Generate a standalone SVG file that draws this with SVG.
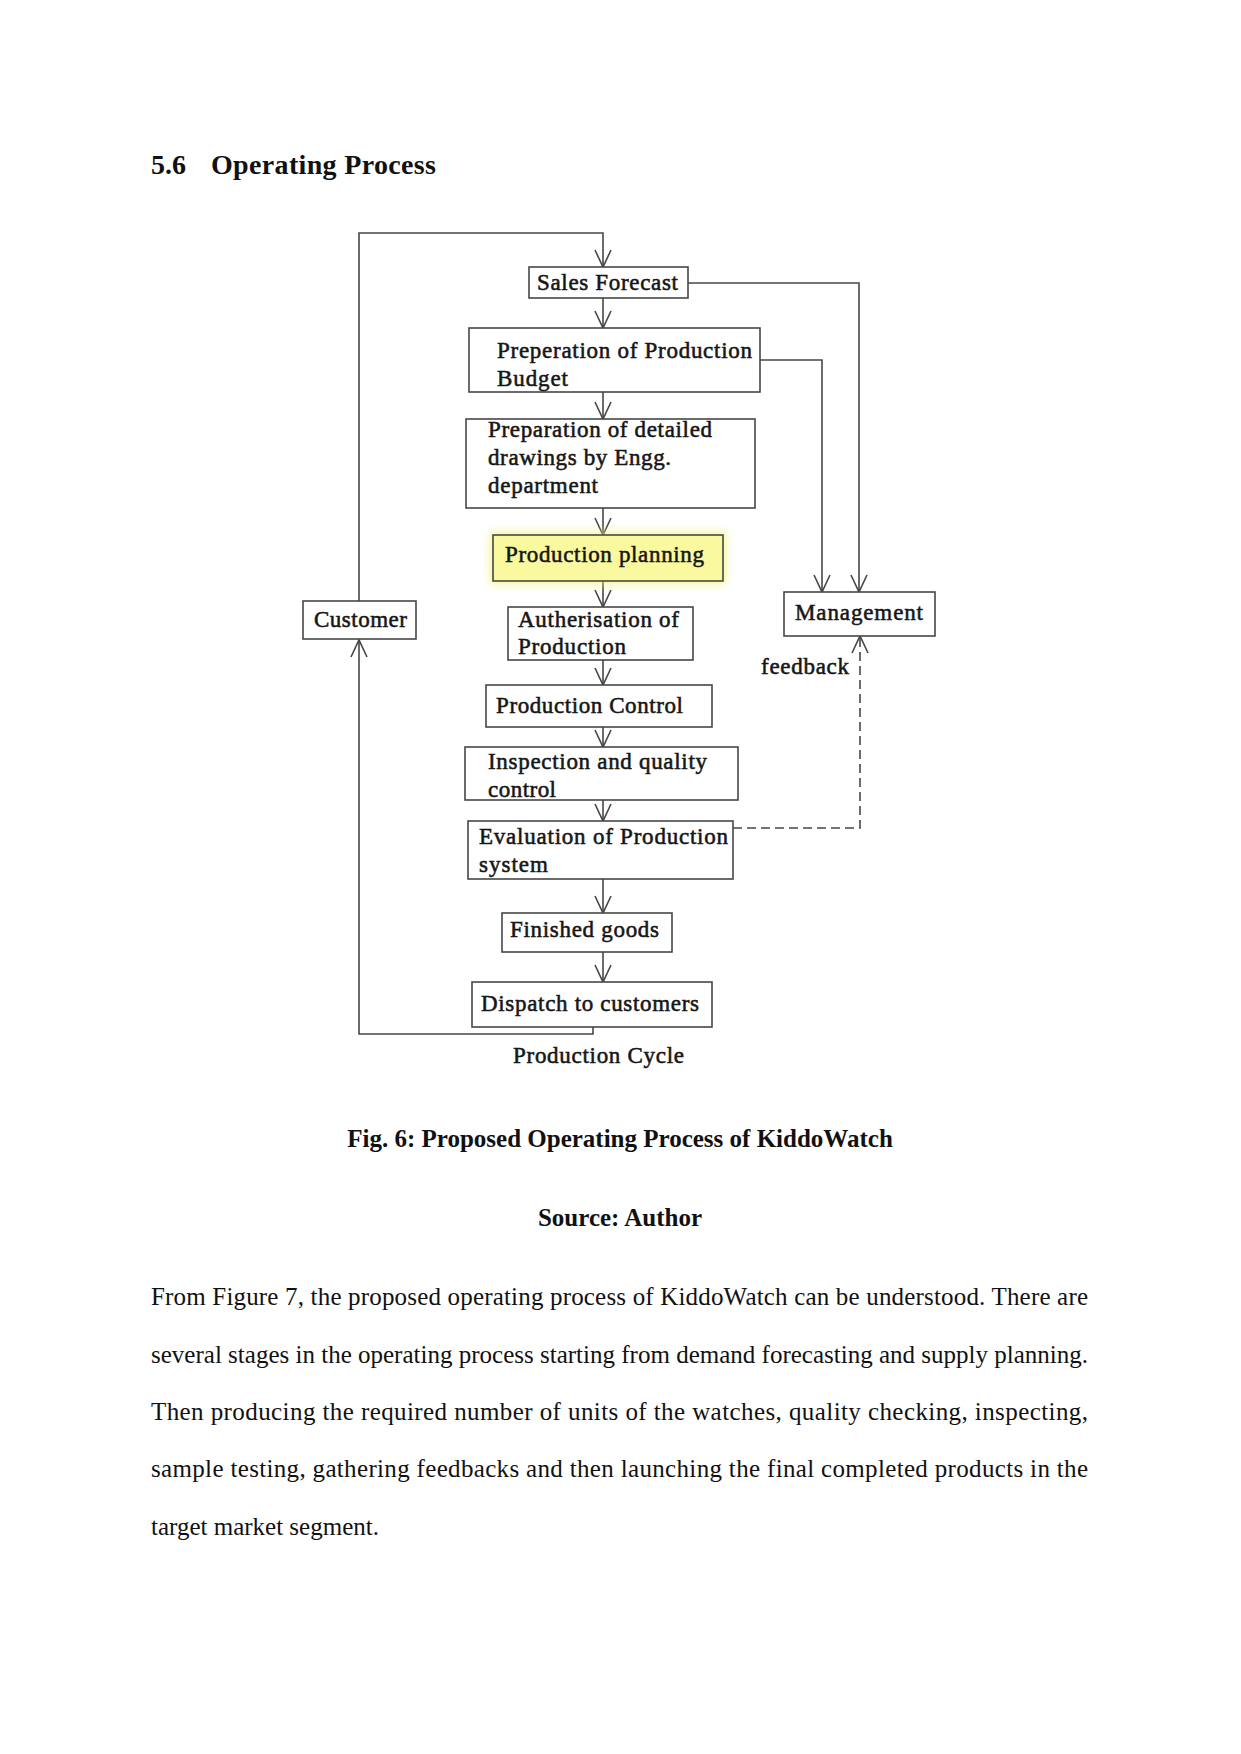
<svg xmlns="http://www.w3.org/2000/svg" width="1241" height="1754" viewBox="0 0 1241 1754">
  <style>
    .box { fill: #ffffff; stroke: #474747; stroke-width: 1.6; }
    .t { font-family: "Liberation Serif", "Times New Roman", serif; font-size: 23px; fill: #161616; stroke: #161616; stroke-width: 0.55; }
    .ln { fill: none; stroke: #474747; stroke-width: 1.6; }
    .dash { fill: none; stroke: #474747; stroke-width: 1.6; stroke-dasharray: 9 5; }
    .head { font-family: "Liberation Serif", "Times New Roman", serif; font-weight: bold; font-size: 28px; fill: #111; }
    .cap { font-family: "Liberation Serif", "Times New Roman", serif; font-weight: bold; font-size: 25px; fill: #111; }
    .body { font-family: "Liberation Serif", "Times New Roman", serif; font-size: 25px; fill: #111; }
  </style>
  <defs>
    <marker id="arr" viewBox="-20 -10 22 20" refX="0" refY="0" markerWidth="22" markerHeight="20" markerUnits="userSpaceOnUse" orient="auto">
      <path d="M-17,-8 L0,0 L-17,8" fill="none" stroke="#474747" stroke-width="1.6"/>
    </marker>
    <filter id="glow" x="-20%" y="-50%" width="140%" height="200%">
      <feGaussianBlur stdDeviation="4"/>
    </filter>
  </defs>

  <rect width="1241" height="1754" fill="#ffffff"/>

  <text class="head" x="151" y="174">5.6</text>
  <text class="head" x="211" y="174" textLength="225" lengthAdjust="spacing">Operating Process</text>

  <g id="connectors">
    <path class="ln" d="M359,601 V233 H603 V267" marker-end="url(#arr)"/>
    <path class="ln" d="M593,1027 V1034 H359 V640" marker-end="url(#arr)"/>
    <path class="ln" d="M603,298 V328" marker-end="url(#arr)"/>
    <path class="ln" d="M603,392 V419" marker-end="url(#arr)"/>
    <path class="ln" d="M603,508 V535" marker-end="url(#arr)"/>
    <path class="ln" d="M603,581 V607" marker-end="url(#arr)"/>
    <path class="ln" d="M603,660 V685" marker-end="url(#arr)"/>
    <path class="ln" d="M603,727 V747" marker-end="url(#arr)"/>
    <path class="ln" d="M603,800 V821" marker-end="url(#arr)"/>
    <path class="ln" d="M603,879 V913" marker-end="url(#arr)"/>
    <path class="ln" d="M603,952 V982" marker-end="url(#arr)"/>
    <path class="ln" d="M688,283 H859 V592" marker-end="url(#arr)"/>
    <path class="ln" d="M760,360 H822 V592" marker-end="url(#arr)"/>
    <path class="dash" d="M733,828 H860 V637"/>
    <path class="ln" d="M852,653 L860,636 L868,653"/>
    <text class="t" x="761" y="674" textLength="88" lengthAdjust="spacing">feedback</text>
    <text class="t" x="513" y="1063" textLength="171" lengthAdjust="spacing">Production Cycle</text>
  </g>

  <g id="sales-forecast">
    <rect class="box" x="529" y="267" width="159" height="31"/>
    <text class="t" x="537" y="290" textLength="141" lengthAdjust="spacing">Sales Forecast</text>
  </g>
  <g id="production-budget">
    <rect class="box" x="469" y="328" width="291" height="64"/>
    <text class="t" x="497" y="358" textLength="255" lengthAdjust="spacing">Preperation of Production</text>
    <text class="t" x="497" y="386" textLength="71" lengthAdjust="spacing">Budget</text>
  </g>
  <g id="detailed-drawings">
    <rect class="box" x="466" y="419" width="289" height="89"/>
    <text class="t" x="488" y="437" textLength="224" lengthAdjust="spacing">Preparation of detailed</text>
    <text class="t" x="488" y="465" textLength="183" lengthAdjust="spacing">drawings by Engg.</text>
    <text class="t" x="488" y="493" textLength="110" lengthAdjust="spacing">department</text>
  </g>
  <g id="production-planning">
    <rect x="490" y="532" width="236" height="52" fill="#f3f36a" opacity="0.7" filter="url(#glow)"/>
    <rect class="box" x="493" y="535" width="230" height="46" style="fill:#fbf99f"/>
    <text class="t" x="505" y="562" textLength="199" lengthAdjust="spacing">Production planning</text>
  </g>
  <g id="authorisation">
    <rect class="box" x="508" y="607" width="185" height="53"/>
    <text class="t" x="518" y="627" textLength="161" lengthAdjust="spacing">Autherisation of</text>
    <text class="t" x="518" y="654" textLength="108" lengthAdjust="spacing">Production</text>
  </g>
  <g id="production-control">
    <rect class="box" x="486" y="685" width="226" height="42"/>
    <text class="t" x="496" y="713" textLength="187" lengthAdjust="spacing">Production Control</text>
  </g>
  <g id="inspection">
    <rect class="box" x="465" y="747" width="273" height="53"/>
    <text class="t" x="488" y="769" textLength="219" lengthAdjust="spacing">Inspection and quality</text>
    <text class="t" x="488" y="797" textLength="68" lengthAdjust="spacing">control</text>
  </g>
  <g id="evaluation">
    <rect class="box" x="468" y="821" width="265" height="58"/>
    <text class="t" x="479" y="844" textLength="249" lengthAdjust="spacing">Evaluation of Production</text>
    <text class="t" x="479" y="872" textLength="69" lengthAdjust="spacing">system</text>
  </g>
  <g id="finished-goods">
    <rect class="box" x="502" y="913" width="170" height="39"/>
    <text class="t" x="510" y="937" textLength="149" lengthAdjust="spacing">Finished goods</text>
  </g>
  <g id="dispatch">
    <rect class="box" x="472" y="982" width="240" height="45"/>
    <text class="t" x="481" y="1011" textLength="218" lengthAdjust="spacing">Dispatch to customers</text>
  </g>
  <g id="customer">
    <rect class="box" x="303" y="601" width="113" height="38"/>
    <text class="t" x="314" y="627" textLength="93" lengthAdjust="spacing">Customer</text>
  </g>
  <g id="management">
    <rect class="box" x="784" y="592" width="151" height="44"/>
    <text class="t" x="795" y="620" textLength="128" lengthAdjust="spacing">Management</text>
  </g>

  <text class="cap" x="620" y="1147" text-anchor="middle">Fig. 6: Proposed Operating Process of KiddoWatch</text>
  <text class="cap" x="620" y="1226" text-anchor="middle">Source: Author</text>

  <text class="body" x="151" y="1305" textLength="937" lengthAdjust="spacing">From Figure 7, the proposed operating process of KiddoWatch can be understood. There are</text>
  <text class="body" x="151" y="1363" textLength="937" lengthAdjust="spacing">several stages in the operating process starting from demand forecasting and supply planning.</text>
  <text class="body" x="151" y="1420" textLength="937" lengthAdjust="spacing">Then producing the required number of units of the watches, quality checking, inspecting,</text>
  <text class="body" x="151" y="1477" textLength="937" lengthAdjust="spacing">sample testing, gathering feedbacks and then launching the final completed products in the</text>
  <text class="body" x="151" y="1535">target market segment.</text>
</svg>
